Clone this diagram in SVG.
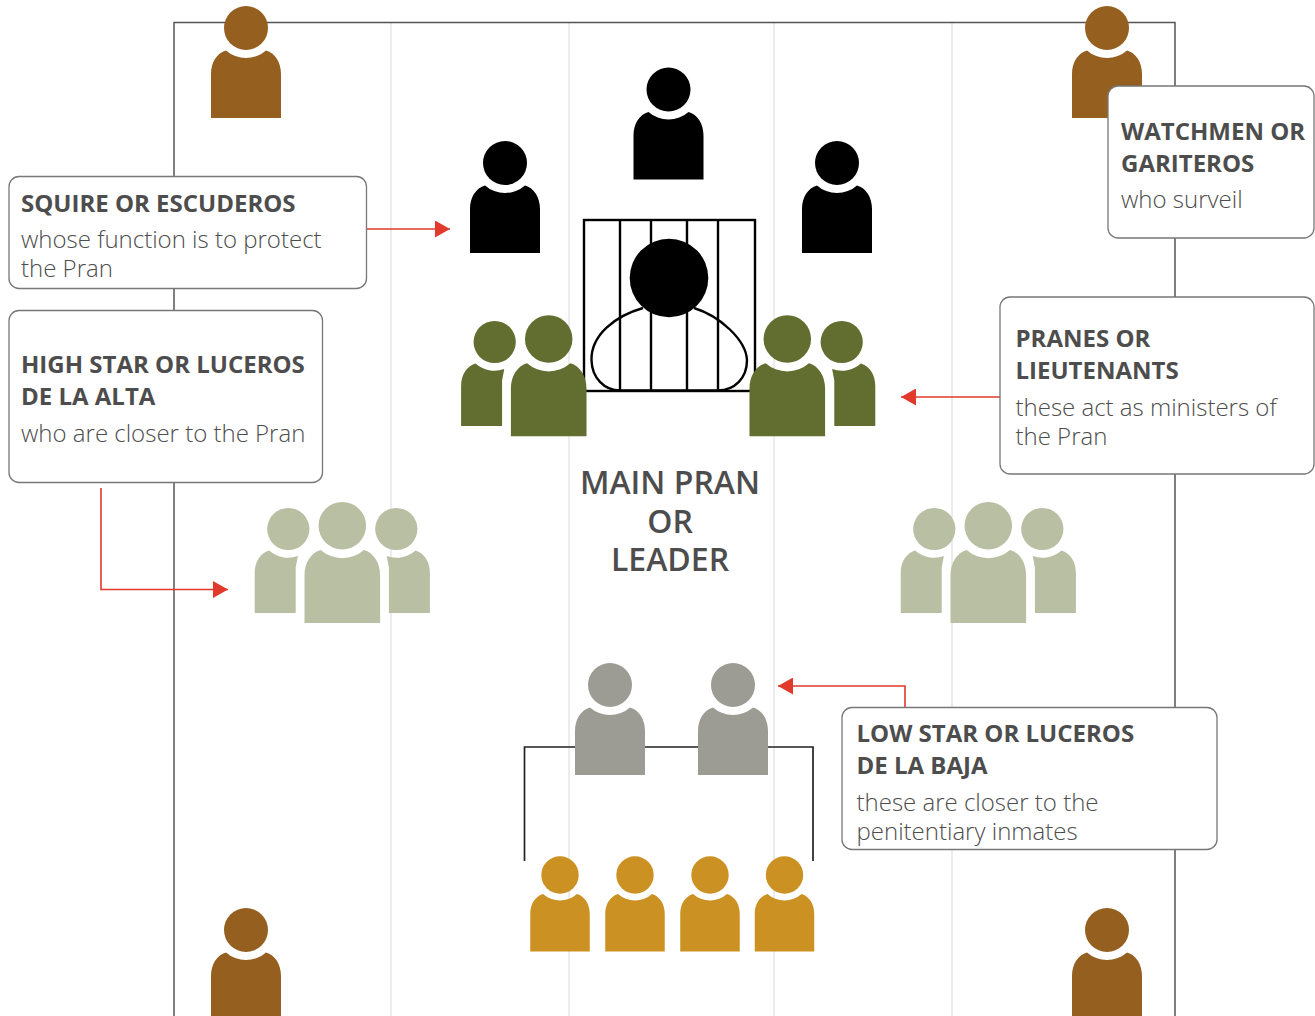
<svg xmlns="http://www.w3.org/2000/svg" width="1315" height="1016" viewBox="0 0 1315 1016">
<style>
.grid{stroke:#e6e6e6;stroke-width:1.5;fill:none}
.frame{stroke:#555;stroke-width:1.5;fill:none}
.box{fill:#fff;stroke:#777;stroke-width:1.3}
.arrow{stroke:#e1392b;stroke-width:1.6;fill:none;marker-end:url(#ah)}
.bracket{stroke:#222;stroke-width:1.7;fill:none}
.cage{stroke:#000;stroke-width:2.4;fill:none}
text{font-family:"Open Sans","Noto Sans","Liberation Sans",sans-serif;fill:#4d4d4d}
.h{font-size:24px;font-weight:700}
.b{font-size:24px;font-weight:300}
.m{font-size:32px;font-weight:600;text-anchor:middle}
.black{fill:#000}.brown{fill:#955f20}.green{fill:#616e2f}.sage{fill:#b9bfa3}.grey{fill:#9c9c94}.gold{fill:#cb9122}
</style>
<defs>
<marker id="ah" viewBox="0 0 15 17" refX="15" refY="8.5" markerUnits="userSpaceOnUse" markerWidth="15" markerHeight="17" orient="auto"><path d="M0,0L15,8.5L0,17Z" fill="#e1392b"/></marker>
<g id="p"><circle r="22"/><path d="M-35,90V46C-35,34-29,25-20,22.400A30,30 0 0 0 20,22.400C29,25 35,34 35,46V90Z"/></g>
<g id="pl"><circle r="22"/><path d="M-35,87.500V46C-35,34-29,25-20,22.400A30,30 0 0 0 10,28L7.700,40V87.500Z"/></g>
<g id="pr"><circle r="22"/><path d="M35,87.500V46C35,34 29,25 20,22.400A30,30 0 0 1 -10,28L-7.700,40V87.500Z"/></g>
</defs>
<g id="frame">
<path class="grid" d="M391,22V1016M569,22V1016M774,22V1016M952,22V1016"/>
<path class="frame" d="M174,1016V22.500H1175V1016"/>
</g>
<g id="connectors">
<path class="bracket" d="M524.500,861V747H813V861"/>
<path class="arrow" d="M367,229H450"/>
<path class="arrow" d="M101,488V589.500H228"/>
<path class="arrow" d="M1000,397H901"/>
<path class="arrow" d="M905,707V686H778"/>
</g>
<g id="watch-tl" class="brown"><use href="#p" x="246" y="28"/></g>
<g id="watch-tr" class="brown"><use href="#p" x="1107" y="28"/></g>
<g id="watch-bl" class="brown"><use href="#p" x="246" y="930"/></g>
<g id="watch-br" class="brown"><use href="#p" x="1107" y="930"/></g>
<g id="squire-top" class="black"><use href="#p" x="668.500" y="89.500"/></g>
<g id="squire-left" class="black"><use href="#p" x="505" y="163"/></g>
<g id="squire-right" class="black"><use href="#p" x="837" y="163"/></g>
<g id="main-pran">
<rect class="cage" x="584" y="220" width="171" height="171"/>
<path class="cage" d="M620,220V391M651,220V391M687,220V391M718,220V391"/>
<path class="cage" d="M643,308C615,316 591,335 591.500,360C592,378 604,390 620,390.500H718C735,390 747,378 747,360C746,340 720,316 694,308"/>
<circle cx="669" cy="278" r="39.300" fill="#000"/>
</g>
<g id="pranes-left" class="green">
<use href="#pl" transform="translate(494.700,342) scale(.96)"/>
<use href="#p" transform="translate(548.700,339) scale(1.08)"/>
</g>
<g id="pranes-right" class="green">
<use href="#pr" transform="translate(841.700,342) scale(.96)"/>
<use href="#p" transform="translate(787.300,339) scale(1.08)"/>
</g>
<g id="high-left" class="sage">
<use href="#pl" transform="translate(288.300,529) scale(.96)"/>
<use href="#pr" transform="translate(396.300,529) scale(.96)"/>
<use href="#p" transform="translate(342.300,525.700) scale(1.08)"/>
</g>
<g id="high-right" class="sage">
<use href="#pl" transform="translate(934.300,529) scale(.96)"/>
<use href="#pr" transform="translate(1042.300,529) scale(.96)"/>
<use href="#p" transform="translate(988.300,525.700) scale(1.08)"/>
</g>
<g id="low-star" class="grey"><use href="#p" x="610" y="685"/><use href="#p" x="733" y="685"/></g>
<g id="inmates" class="gold">
<use href="#p" transform="translate(560,875) scale(.85)"/>
<use href="#p" transform="translate(635,875) scale(.85)"/>
<use href="#p" transform="translate(710,875) scale(.85)"/>
<use href="#p" transform="translate(784.500,875) scale(.85)"/>
</g>
<g id="main-label">
<text class="m" x="670" y="494">MAIN PRAN</text>
<text class="m" x="670" y="533">OR</text>
<text class="m" x="670" y="571">LEADER</text>
</g>
<g id="box-squire">
<rect class="box" x="9" y="176.500" width="357.500" height="112" rx="10"/>
<text class="h" x="21" y="212">SQUIRE OR ESCUDEROS</text>
<text class="b" x="21" y="248">whose function is to protect</text>
<text class="b" x="21" y="277">the Pran</text>
</g>
<g id="box-high">
<rect class="box" x="9" y="310.500" width="313.500" height="172" rx="10"/>
<text class="h" x="21" y="373">HIGH STAR OR LUCEROS</text>
<text class="h" x="21" y="405">DE LA ALTA</text>
<text class="b" x="21" y="442">who are closer to the Pran</text>
</g>
<g id="box-watch">
<rect class="box" x="1108" y="86" width="206" height="152" rx="10"/>
<text class="h" x="1121" y="140">WATCHMEN OR</text>
<text class="h" x="1121" y="172">GARITEROS</text>
<text class="b" x="1121" y="208">who surveil</text>
</g>
<g id="box-pranes">
<rect class="box" x="1000" y="297" width="314" height="177" rx="10"/>
<text class="h" x="1015.500" y="347">PRANES OR</text>
<text class="h" x="1015.500" y="379">LIEUTENANTS</text>
<text class="b" x="1015.500" y="416">these act as ministers of</text>
<text class="b" x="1015.500" y="445">the Pran</text>
</g>
<g id="box-low">
<rect class="box" x="842" y="707.500" width="375" height="142" rx="10"/>
<text class="h" x="856.500" y="742">LOW STAR OR LUCEROS</text>
<text class="h" x="856.500" y="774">DE LA BAJA</text>
<text class="b" x="856.500" y="811">these are closer to the</text>
<text class="b" x="856.500" y="840">penitentiary inmates</text>
</g>
</svg>
